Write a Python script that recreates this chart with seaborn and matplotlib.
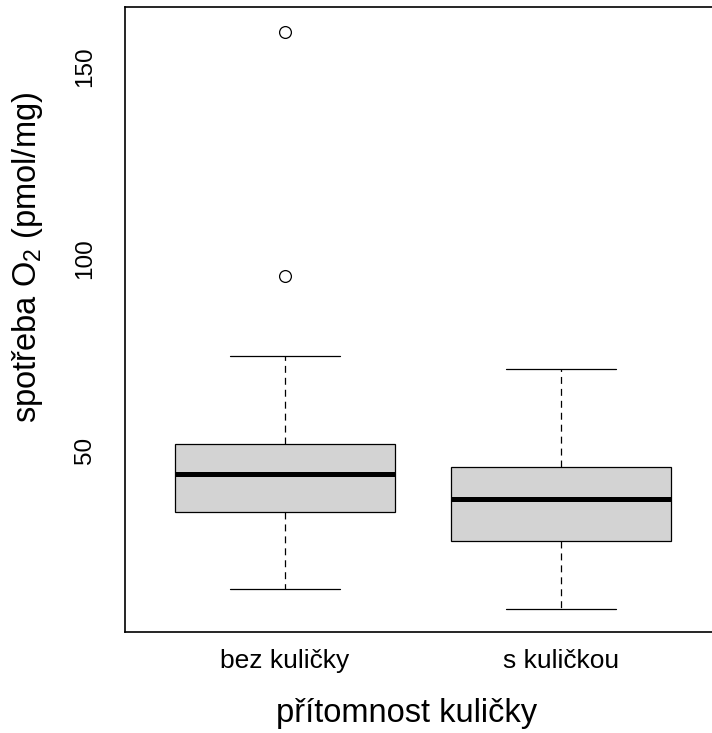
import seaborn as sns
import matplotlib.pyplot as plt
import pandas as pd

# box summaries (R style boxplot)
categories = ["bez kuličky", "s kuličkou"]
lower_whisker = [13.9, 8.6]
q1 = [33.9, 26.4]
median = [43.8, 37.3]
q3 = [51.6, 45.7]
upper_whisker = [74.6, 71.2]
outliers = [[95.4, 159.0], []]

yticks = [50, 100, 150]
xlabel = "přítomnost kuličky"
ylabel = "spotřeba O$_2$ (pmol/mg)"

# build observations that give exactly these box statistics
rows = []
for i, cat in enumerate(categories):
    if outliers[i]:
        vals = ([lower_whisker[i]] + [q1[i]] * 3 + [median[i]] * 3
                + [q3[i]] * 3 + [upper_whisker[i]] + outliers[i])
    else:
        vals = ([lower_whisker[i]] + [q1[i]] * 2 + [median[i]] * 3
                + [q3[i]] * 2 + [upper_whisker[i]])
    for v in vals:
        rows.append({"group": cat, "value": v})
df = pd.DataFrame(rows)

sns.set_style("white")
plt.rcParams['font.family'] = ['Liberation Sans', 'DejaVu Sans']
plt.rcParams['mathtext.fontset'] = 'custom'
plt.rcParams['mathtext.rm'] = 'Liberation Sans'
plt.rcParams['mathtext.it'] = 'Liberation Sans:italic'
plt.rcParams['lines.scale_dashes'] = False

fig = plt.figure(figsize=(7.12, 7.33), dpi=100)
ax = fig.add_axes([0.1756, 0.1374, 0.8371, 0.8524])

sns.boxplot(data=df, x="group", y="value", order=categories, ax=ax,
            color="#d3d3d3", saturation=1, linecolor="black", linewidth=0.9,
            width=0.8, whis=1.5, fliersize=8.5,
            medianprops={"linewidth": 3.6, "solid_capstyle": "butt"},
            whiskerprops={"linestyle": (0, (5, 3.6))},
            flierprops={"marker": "o", "markerfacecolor": "none",
                        "markeredgecolor": "black", "markeredgewidth": 0.9})

ax.set_xlim(-0.58, 1.58)
ax.set_ylim(2.6, 165.3)
ax.set_yticks(yticks)
ax.set_yticklabels([str(t) for t in yticks])

for s in ax.spines.values():
    s.set_visible(True)
    s.set_color("black")
    s.set_linewidth(1.2)

ax.tick_params(axis='both', direction='out', length=10.8, width=0.9,
               color='black', labelcolor='black')
ax.tick_params(axis='x', pad=1.5, labelsize=19)
ax.tick_params(axis='y', pad=10, labelsize=17.5, labelrotation=90)
for lbl in ax.get_yticklabels():
    lbl.set_va('center')

ax.set_xlabel(xlabel, fontsize=23.5, color='black')
ax.set_ylabel(ylabel, fontsize=23.5, color='black')
ax.xaxis.set_label_coords(0.5716, 0.0477, transform=fig.transFigure)
ax.yaxis.set_label_coords(0.0632, 0.6494, transform=fig.transFigure)

plt.savefig("out.png", dpi=100, facecolor="white")
